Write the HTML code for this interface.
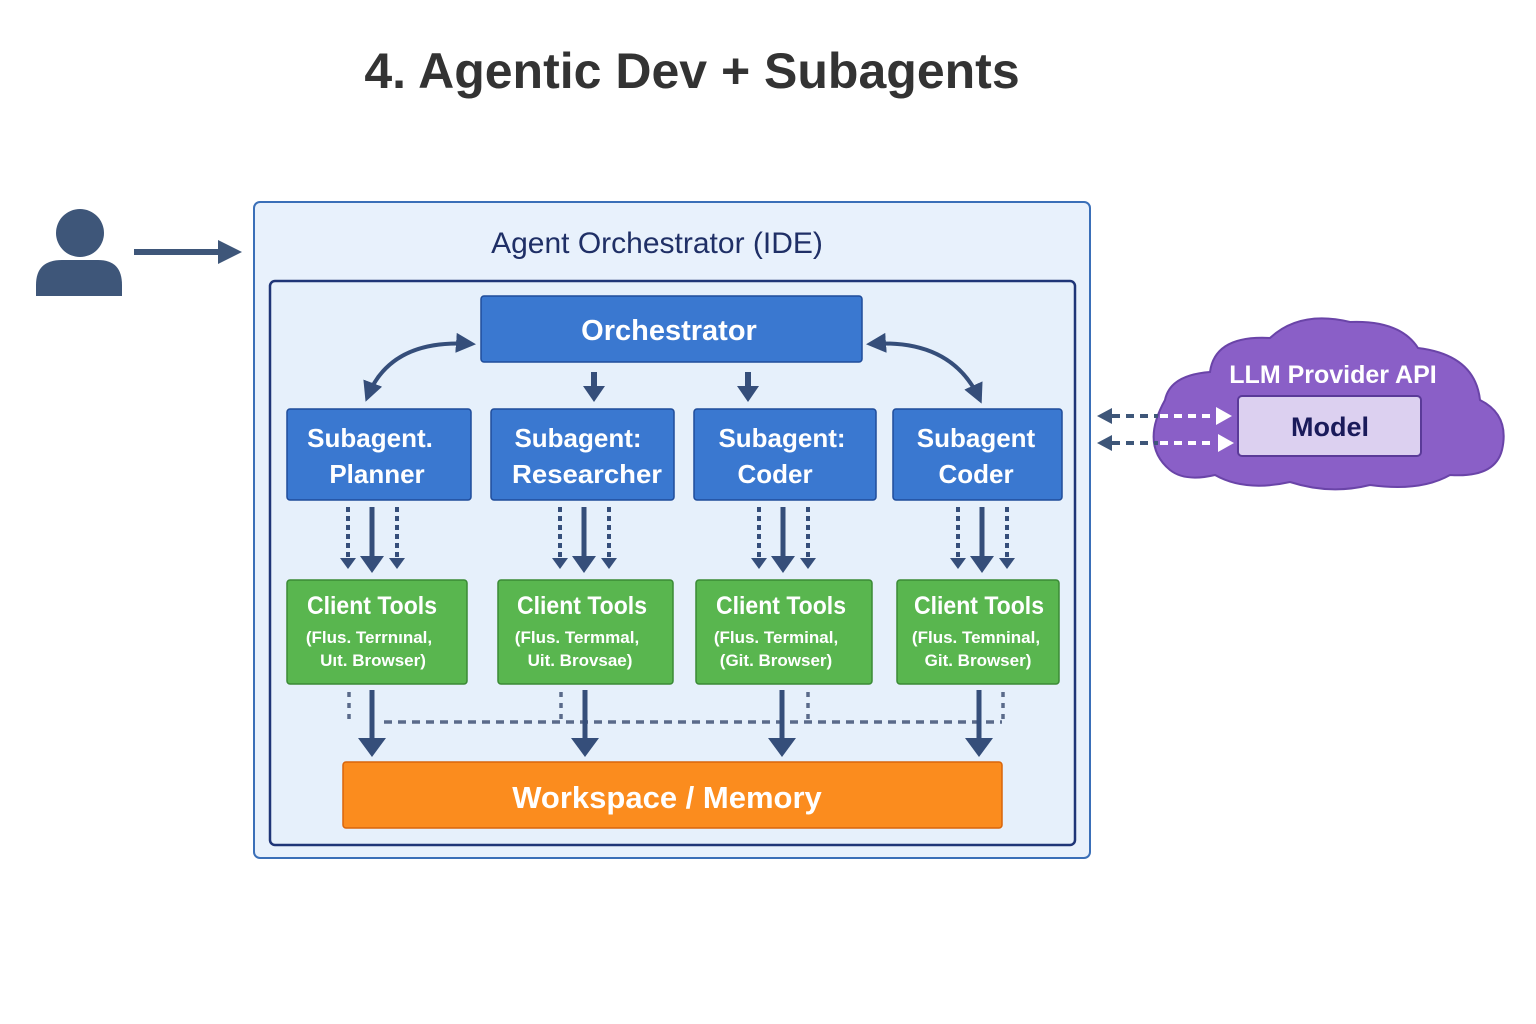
<!DOCTYPE html>
<html><head><meta charset="utf-8"><style>
html,body{margin:0;padding:0;background:#fff;}
svg{display:block;}
text{font-family:"Liberation Sans","DejaVu Sans",sans-serif;}
</style></head><body>
<svg width="1536" height="1024" viewBox="0 0 1536 1024" xmlns="http://www.w3.org/2000/svg">
<defs>
<marker id="ah" viewBox="0 0 10 10" refX="8" refY="5" markerWidth="5" markerHeight="5" orient="auto-start-reverse"><path d="M0,0L10,5L0,10z" fill="#354e7a"/></marker>
</defs>
<text x="692" y="88" text-anchor="middle" font-size="50" font-weight="bold" fill="#333">4. Agentic Dev + Subagents</text>

<circle cx="80" cy="233" r="24" fill="#3e5679"/>
<path d="M36,296 L36,285 Q36,260 62,260 L98,260 Q122,260 122,285 L122,296 Z" fill="#3e5679"/>
<line x1="134" y1="252" x2="222" y2="252" stroke="#3e5679" stroke-width="6"/>
<path d="M218,240 L242,252 L218,264 Z" fill="#3e5679"/>

<rect x="254" y="202" width="836" height="656" rx="6" fill="#e8f1fc" stroke="#3a6fb8" stroke-width="2"/>
<text x="657" y="253" text-anchor="middle" font-size="30" fill="#1f2f66">Agent Orchestrator (IDE)</text>
<rect x="270" y="281" width="805" height="564" rx="5" fill="#e6f0fb" stroke="#1f3577" stroke-width="2.5"/>

<rect x="481" y="296" width="381" height="66" rx="3" fill="#3a78d0" stroke="#1f4c9a" stroke-width="1.5"/>
<text x="669" y="340" text-anchor="middle" font-size="29" font-weight="bold" fill="#fff">Orchestrator</text>

<path d="M472,344 Q390,338 367,398" fill="none" stroke="#354e7a" stroke-width="4" marker-start="url(#ah)" marker-end="url(#ah)"/>
<path d="M870,344 Q952,338 980,400" fill="none" stroke="#354e7a" stroke-width="4" marker-start="url(#ah)" marker-end="url(#ah)"/>
<line x1="594" y1="372" x2="594" y2="388" stroke="#354e7a" stroke-width="6"/>
<path d="M583,386 L605,386 L594,402 Z" fill="#354e7a"/>
<line x1="748" y1="372" x2="748" y2="388" stroke="#354e7a" stroke-width="6"/>
<path d="M737,386 L759,386 L748,402 Z" fill="#354e7a"/>

<g font-size="26" font-weight="bold" fill="#fff" text-anchor="middle">
<rect x="287" y="409" width="184" height="91" rx="3" fill="#3a78d0" stroke="#1f4c9a" stroke-width="1.5"/>
<text x="370" y="447" fill="#fff">Subagent.</text><text x="377" y="483" fill="#fff">Planner</text>
<rect x="491" y="409" width="183" height="91" rx="3" fill="#3a78d0" stroke="#1f4c9a" stroke-width="1.5"/>
<text x="578" y="447" fill="#fff">Subagent:</text><text x="587" y="483" fill="#fff" textLength="150" lengthAdjust="spacingAndGlyphs">Researcher</text>
<rect x="694" y="409" width="182" height="91" rx="3" fill="#3a78d0" stroke="#1f4c9a" stroke-width="1.5"/>
<text x="782" y="447" fill="#fff">Subagent:</text><text x="775" y="483" fill="#fff">Coder</text>
<rect x="893" y="409" width="169" height="91" rx="3" fill="#3a78d0" stroke="#1f4c9a" stroke-width="1.5"/>
<text x="976" y="447" fill="#fff">Subagent</text><text x="976" y="483" fill="#fff">Coder</text>
</g>

<g stroke="#354e7a">
<g id="a1">
<line x1="372" y1="507" x2="372" y2="558" stroke-width="5"/>
<line x1="348" y1="507" x2="348" y2="558" stroke-width="4" stroke-dasharray="5,4"/>
<line x1="397" y1="507" x2="397" y2="558" stroke-width="4" stroke-dasharray="5,4"/>
</g>
<use href="#a1" x="212"/><use href="#a1" x="411"/><use href="#a1" x="610"/>
</g>
<g fill="#354e7a">
<g id="h1"><path d="M360,556 L384,556 L372,573Z"/><path d="M340,558 L356,558 L348,569Z"/><path d="M389,558 L405,558 L397,569Z"/></g>
<use href="#h1" x="212"/><use href="#h1" x="411"/><use href="#h1" x="610"/>
</g>

<g text-anchor="middle" fill="#fff">
<rect x="287" y="580" width="180" height="104" rx="3" fill="#59b64f" stroke="#3a8a35" stroke-width="1.5"/>
<text x="372" y="614" font-size="25" font-weight="bold" fill="#fff" textLength="130" lengthAdjust="spacingAndGlyphs">Client Tools</text>
<text x="369" y="643" font-size="17" font-weight="bold" fill="#fff">(Flus. Terrnınal,</text>
<text x="373" y="666" font-size="17" font-weight="bold" fill="#fff">Uıt. Browser)</text>
<rect x="498" y="580" width="175" height="104" rx="3" fill="#59b64f" stroke="#3a8a35" stroke-width="1.5"/>
<text x="582" y="614" font-size="25" font-weight="bold" fill="#fff" textLength="130" lengthAdjust="spacingAndGlyphs">Client Tools</text>
<text x="577" y="643" font-size="17" font-weight="bold" fill="#fff">(Flus. Termmal,</text>
<text x="580" y="666" font-size="17" font-weight="bold" fill="#fff">Uit. Brovsae)</text>
<rect x="696" y="580" width="176" height="104" rx="3" fill="#59b64f" stroke="#3a8a35" stroke-width="1.5"/>
<text x="781" y="614" font-size="25" font-weight="bold" fill="#fff" textLength="130" lengthAdjust="spacingAndGlyphs">Client Tools</text>
<text x="776" y="643" font-size="17" font-weight="bold" fill="#fff">(Flus. Terminal,</text>
<text x="776" y="666" font-size="17" font-weight="bold" fill="#fff">(Git. Browser)</text>
<rect x="897" y="580" width="162" height="104" rx="3" fill="#59b64f" stroke="#3a8a35" stroke-width="1.5"/>
<text x="979" y="614" font-size="25" font-weight="bold" fill="#fff" textLength="130" lengthAdjust="spacingAndGlyphs">Client Tools</text>
<text x="976" y="643" font-size="17" font-weight="bold" fill="#fff">(Flus. Temninal,</text>
<text x="978" y="666" font-size="17" font-weight="bold" fill="#fff">Git. Browser)</text>
</g>

<g stroke="#5a6a8a" stroke-width="3.5" stroke-dasharray="8,6" fill="none">
<line x1="384" y1="722" x2="1002" y2="722"/>
<line x1="349" y1="692" x2="349" y2="724" stroke-dasharray="5,6"/>
<line x1="561" y1="692" x2="561" y2="724" stroke-dasharray="5,6"/>
<line x1="808" y1="692" x2="808" y2="724" stroke-dasharray="5,6"/>
<line x1="1003" y1="692" x2="1003" y2="724" stroke-dasharray="5,6"/>
</g>
<g stroke="#354e7a" stroke-width="5">
<line x1="372" y1="690" x2="372" y2="742"/><line x1="585" y1="690" x2="585" y2="742"/>
<line x1="782" y1="690" x2="782" y2="742"/><line x1="979" y1="690" x2="979" y2="742"/>
</g>
<g fill="#354e7a">
<path d="M358,738 L386,738 L372,757Z"/><path d="M571,738 L599,738 L585,757Z"/>
<path d="M768,738 L796,738 L782,757Z"/><path d="M965,738 L993,738 L979,757Z"/>
</g>

<rect x="343" y="762" width="659" height="66" rx="3" fill="#fb8c1e" stroke="#d9650a" stroke-width="1.5"/>
<text x="667" y="808" text-anchor="middle" font-size="31" font-weight="bold" fill="#fff">Workspace / Memory</text>

<path d="M1170,470 Q1140,445 1165,400 Q1170,375 1210,372 Q1215,335 1270,338 Q1300,310 1350,322 Q1400,320 1418,348 Q1475,355 1480,400 Q1510,415 1502,450 Q1495,478 1450,475 Q1420,492 1370,485 Q1330,495 1290,482 Q1245,492 1215,475 Q1185,482 1170,470 Z" fill="#8a5fc7" stroke="#6a44a8" stroke-width="2"/>
<text x="1333" y="383" text-anchor="middle" font-size="25" font-weight="bold" fill="#fff">LLM Provider API</text>
<rect x="1238" y="396" width="183" height="60" rx="4" fill="#dcd0f0" stroke="#5a3a98" stroke-width="2"/>
<text x="1330" y="436" text-anchor="middle" font-size="27" font-weight="bold" fill="#1a1a5a">Model</text>
<g stroke-width="4" stroke-dasharray="8,6" fill="none">
<line x1="1112" y1="416" x2="1158" y2="416" stroke="#3e5679"/>
<line x1="1112" y1="443" x2="1158" y2="443" stroke="#3e5679"/>
<line x1="1160" y1="416" x2="1216" y2="416" stroke="#fff"/>
<line x1="1160" y1="443" x2="1216" y2="443" stroke="#fff"/>
</g>
<path d="M1097,416 L1112,408 L1112,424Z" fill="#3e5679"/>
<path d="M1097,443 L1112,435 L1112,451Z" fill="#3e5679"/>
<path d="M1232,416 L1216,407 L1216,425Z" fill="#fff"/>
<path d="M1234,443 L1218,434 L1218,452Z" fill="#fff"/>
</svg>
</body></html>
